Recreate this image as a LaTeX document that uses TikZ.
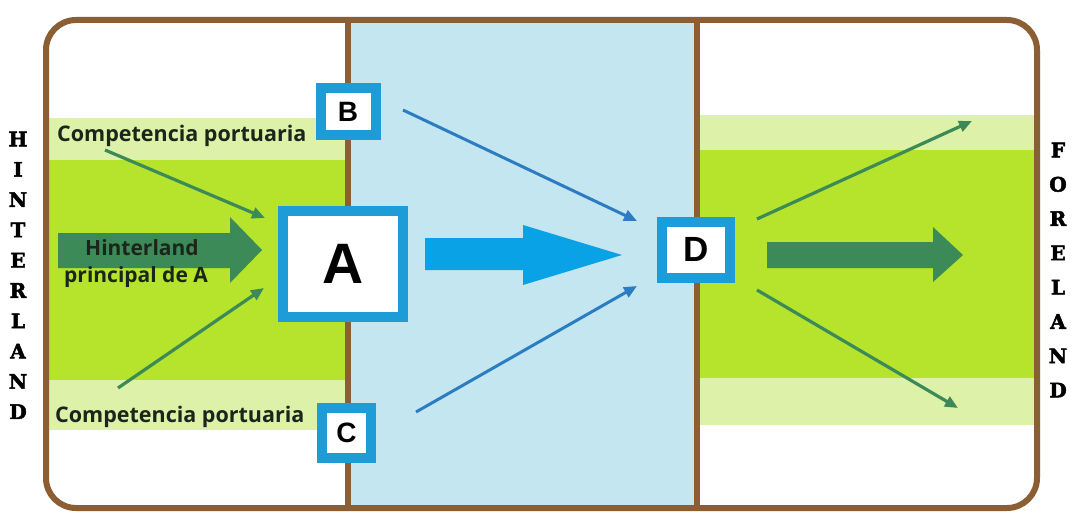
\documentclass[tikz,border=0pt]{standalone}
\usepackage{fontspec}
\setmainfont{Liberation Serif}
\newfontfamily\osb{Open Sans}
\newfontfamily\lsans{Liberation Sans}
\newfontfamily\myvertfont{DejaVu Serif Bold}[FakeBold=2.5]
\usetikzlibrary{arrows.meta}
\definecolor{brownc}{HTML}{8B5E34}
\definecolor{lblue}{HTML}{C4E6F1}
\definecolor{lgreen}{HTML}{DDF1A9}
\definecolor{ygreen}{HTML}{B6E32C}
\definecolor{dgreen}{HTML}{3C8A58}
\definecolor{boxblue}{HTML}{1E9CD8}
\definecolor{bigblue}{HTML}{0AA2E6}
\definecolor{thinblue}{HTML}{2C7CC2}
\definecolor{txt}{HTML}{1A261C}
\tikzset{
  brownline/.style={draw=brownc, line width=6pt},
  port/.style={draw=boxblue, line width=10pt, fill=white, inner sep=0pt},
  bluearr/.style={draw=thinblue, line width=3pt, -{Triangle[length=13pt,width=11pt]}},
  greenarr/.style={draw=dgreen, line width=3.2pt, -{Triangle[length=13pt,width=11pt]}},
  vletter/.style={inner sep=0pt, font=\myvertfont\fontsize{20}{20}\selectfont},
  comptext/.style={anchor=base west, inner sep=0pt, text=txt, font=\osb\bfseries\fontsize{21.5}{21.5}\selectfont},
  hintext/.style={anchor=base west, inner sep=0pt, text=txt, font=\osb\bfseries\fontsize{21}{21}\selectfont}
}
\begin{document}
\begin{tikzpicture}[x=1pt,y=-1pt]
\useasboundingbox (0,0) rectangle (1073,516);
\fill[white] (0,0) rectangle (1073,516);
% regions
\fill[lblue] (348,20) rectangle (697,508);
\fill[lgreen] (46,118) rectangle (348,430);
\fill[ygreen] (46,160) rectangle (348,380);
\fill[lgreen] (697,115) rectangle (1034,425);
\fill[ygreen] (697,150) rectangle (1034,378);
% frame
\draw[brownline, rounded corners=30pt] (46,20) rectangle (1037,508);
\draw[brownline] (348,20) -- (348,508);
\draw[brownline] (697,20) -- (697,508);
% big arrows
\fill[dgreen] (58,233) -- (230,233) -- (230,217) -- (262,250) -- (230,283) -- (230,268) -- (58,268) -- cycle;
\fill[bigblue] (425,238) -- (523,238) -- (523,225) -- (622,255) -- (523,285) -- (523,270) -- (425,270) -- cycle;
\fill[dgreen] (767,242) -- (933,242) -- (933,227) -- (963,255) -- (933,282) -- (933,268) -- (767,268) -- cycle;
% ports
\node[port, minimum width=120pt, minimum height=106pt] (A) at (343,264) {\raisebox{-4pt}{\lsans\bfseries\fontsize{57}{57}\selectfont A}};
\node[port, minimum width=55pt, minimum height=47pt] (B) at (348,111.5) {\lsans\bfseries\fontsize{28}{28}\selectfont B};
\node[port, minimum width=49pt, minimum height=50pt] (C) at (346.5,433) {\lsans\bfseries\fontsize{28}{28}\selectfont C};
\node[port, minimum width=68pt, minimum height=56pt] (D) at (696,249.5) {\raisebox{-2pt}{\lsans\bfseries\fontsize{35}{35}\selectfont D}};
% thin arrow end points
\coordinate (bs) at (403,110);
\coordinate (de1) at (637,221);
\coordinate (cs) at (416,412);
\coordinate (de2) at (637,286);
\coordinate (g1s) at (105,150);
\coordinate (ae1) at (265,218);
\coordinate (g2s) at (118,388);
\coordinate (ae2) at (264,288);
\coordinate (ds1) at (757,219);
\coordinate (fe1) at (972,121);
\coordinate (ds2) at (757,290);
\coordinate (fe2) at (958,408);
\draw[bluearr] (bs) -- (de1);
\draw[bluearr] (cs) -- (de2);
\draw[greenarr] (g1s) -- (ae1);
\draw[greenarr] (g2s) -- (ae2);
\draw[greenarr] (ds1) -- (fe1);
\draw[greenarr] (ds2) -- (fe2);
% texts
\node[comptext] (comp1) at (57,142) {Competencia portuaria};
\node[comptext] (comp2) at (55,422) {Competencia portuaria};
\node[hintext] (hin1) at (85,255) {Hinterland};
\node[hintext] (hin2) at (64,282) {principal de A};
% vertical words
\node[vletter] (hl1) at (18,139) {H};
\node[vletter] (hl2) at (18,169.3) {I};
\node[vletter] (hl3) at (18,199.6) {N};
\node[vletter] (hl4) at (18,229.9) {T};
\node[vletter] (hl5) at (18,260.2) {E};
\node[vletter] (hl6) at (18,290.5) {R};
\node[vletter] (hl7) at (18,320.8) {L};
\node[vletter] (hl8) at (18,351.1) {A};
\node[vletter] (hl9) at (18,381.4) {N};
\node[vletter] (hl10) at (18,411.7) {D};
\node[vletter] (fl1) at (1058,150) {F};
\node[vletter] (fl2) at (1058,184.3) {O};
\node[vletter] (fl3) at (1058,218.6) {R};
\node[vletter] (fl4) at (1058,252.9) {E};
\node[vletter] (fl5) at (1058,287.2) {L};
\node[vletter] (fl6) at (1058,321.5) {A};
\node[vletter] (fl7) at (1058,355.8) {N};
\node[vletter] (fl8) at (1058,390.1) {D};
\end{tikzpicture}
\end{document}
